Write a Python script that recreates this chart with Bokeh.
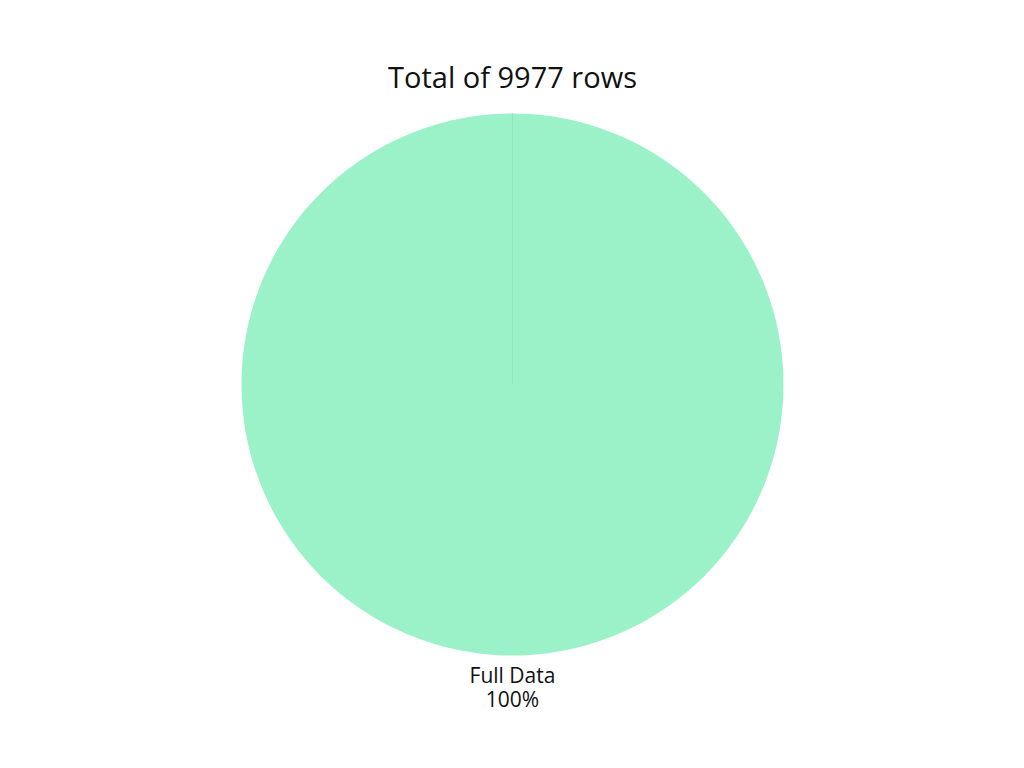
import math
from bokeh.plotting import figure
from bokeh.models import Range1d, ColumnDataSource
from bokeh.core.properties import value
from bokeh.embed import file_html
from bokeh.resources import INLINE

# Data
title_text = "Total of 9977 rows"
categories = ["Full Data"]
counts = [9977]
colors = ["#9bf2c8"]

W, H = 1024, 768
R_PX = 271.0
xr = W / 2 / R_PX
yr = H / 2 / R_PX

p = figure(width=W, height=H, output_backend="svg", toolbar_location=None,
           x_range=Range1d(-xr, xr), y_range=Range1d(-yr, yr),
           min_border=0, outline_line_color=None)
p.axis.visible = False
p.grid.visible = False
p.background_fill_color = "white"
p.border_fill_color = "white"

total = sum(counts)
starts, ends, mids, pcts = [], [], [], []
a = math.pi / 2
for c in counts:
    frac = c / total
    sweep = min(2 * math.pi * frac, 2 * math.pi - 1e-4)
    s = a
    e = a - sweep
    starts.append(s)
    ends.append(e)
    mids.append(a - math.pi * frac)
    pcts.append(f"{round(frac * 100)}%")
    a = a - 2 * math.pi * frac

src = ColumnDataSource(dict(x=[0.0] * len(counts), y=[0.0] * len(counts),
                            start=starts, end=ends, color=colors))
p.wedge(x="x", y="y", radius=1.0, start_angle="start", end_angle="end",
        direction="clock", fill_color="color", line_color=None, source=src)

# slice boundary lines
p.segment(x0=[0.0] * len(starts), y0=[0.0] * len(starts),
          x1=[math.cos(s) for s in starts], y1=[math.sin(s) for s in starts],
          line_color="#8ee6bb", line_width=1)

# labels outside
lr = 1.0738
lx = [lr * math.cos(m) for m in mids]
ly = [lr * math.sin(m) for m in mids]
p.text(x=lx, y=ly, text=categories, text_font=value("Open Sans"),
       text_font_size="21px", text_color="#111111", text_align="center",
       text_baseline="middle")
p.text(x=lx, y=[v - 23.5 / R_PX for v in ly], text=pcts, text_font=value("Open Sans"),
       text_font_size="21px", text_color="#111111", text_align="center",
       text_baseline="middle")

# title
p.text(x=[0.0], y=[(H / 2 - 76) / R_PX], text=[title_text], text_font=value("Open Sans"),
       text_font_size="29px", text_color="#111111", text_align="center",
       text_baseline="middle")

open("out.html", "w").write(file_html(p, INLINE))
